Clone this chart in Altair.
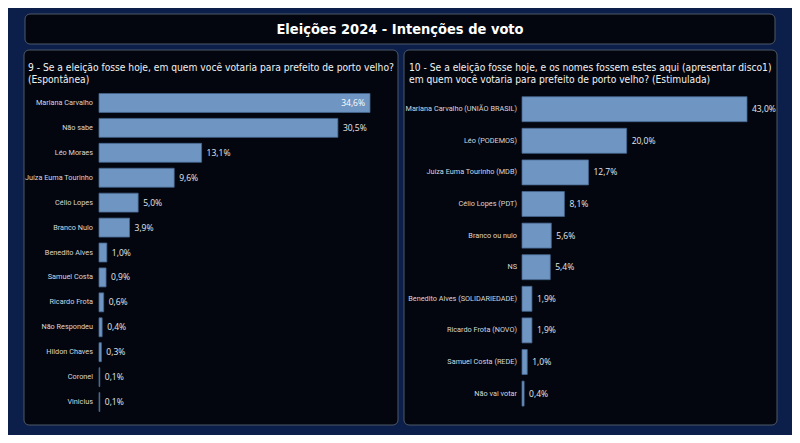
import altair as alt
import pandas as pd

title_text = "Eleições 2024 - Intenções de voto"
left_header = "9 - Se a eleição fosse hoje, em quem você votaria para prefeito de porto velho?\n(Espontânea)"
right_header = "10 - Se a eleição fosse hoje, e os nomes fossem estes aqui (apresentar disco1)\nem quem você votaria para prefeito de porto velho? (Estimulada)"

left_names = ["Mariana Carvalho", "Não sabe", "Léo Moraes", "Juíza Euma Tourinho", "Célio Lopes",
              "Branco Nulo", "Benedito Alves", "Samuel Costa", "Ricardo Frota", "Não Respondeu",
              "Hildon Chaves", "Coronel", "Vinicius"]
left_values = [34.6, 30.5, 13.1, 9.6, 5.0, 3.9, 1.0, 0.9, 0.6, 0.4, 0.3, 0.1, 0.1]

right_names = ["Mariana Carvalho (UNIÃO BRASIL)", "Léo (PODEMOS)", "Juíza Euma Tourinho (MDB)",
               "Célio Lopes (PDT)", "Branco ou nulo", "NS", "Benedito Alves (SOLIDARIEDADE)",
               "Ricardo Frota (NOVO)", "Samuel Costa (REDE)", "Não vai votar"]
right_values = [43.0, 20.0, 12.7, 8.1, 5.6, 5.4, 1.9, 1.9, 1.0, 0.4]

HEAD_FONT = "DejaVu Sans Condensed, Liberation Sans Narrow, Roboto"
LABEL_FONT = "Open Sans, Noto Sans, sans-serif"
CAT_FONT = "Roboto, Lato, sans-serif"
BAR = "#6f96c3"
BAR_STROKE = "#46668e"
PANEL_FILL = "#03060e"
PANEL_STROKE = "#4d5868"


def box(x, y, x2, y2):
    return alt.Chart(pd.DataFrame({"k": [0]})).mark_rect(
        fill=PANEL_FILL, stroke=PANEL_STROKE, strokeWidth=1, cornerRadius=5
    ).encode(x=alt.value(x), y=alt.value(y), x2=alt.value(x2), y2=alt.value(y2))


def text_at(txt, x, y, size, align="left", weight="normal", color="#f2f2f2"):
    return alt.Chart(pd.DataFrame({"t": [txt]})).mark_text(
        align=align, baseline="middle", lineBreak="\n", lineHeight=12, color=color,
        font=HEAD_FONT, fontSize=size, fontWeight=weight
    ).encode(x=alt.value(x), y=alt.value(y), text="t:N")


def panel(names, values, xr, yr, pad_inner, label_x, inside_first):
    df = pd.DataFrame({"nome": names, "valor": values})
    df["rotulo"] = [f"{v:.1f}".replace(".", ",") + "%" for v in values]
    df["dentro"] = [bool(inside_first and i == 0) for i in range(len(values))]

    y = alt.Y("nome:N", sort=names, axis=None,
              scale=alt.Scale(domain=names, range=yr, paddingInner=pad_inner,
                              paddingOuter=pad_inner / 2))
    x = alt.X("valor:Q", axis=None,
              scale=alt.Scale(domain=[0, max(values)], range=xr, nice=False, zero=True))

    base = alt.Chart(df).encode(y=y)
    bars = base.mark_bar(color=BAR, stroke=BAR_STROKE, strokeWidth=0.8).encode(x=x)
    out_lbl = base.transform_filter("!datum.dentro").mark_text(
        align="left", baseline="middle", dx=5, color="#e6e9ee", font=LABEL_FONT, fontSize=8.5
    ).encode(x=x, text="rotulo:N")
    in_lbl = base.transform_filter("datum.dentro").mark_text(
        align="right", baseline="middle", dx=-5, color="#ffffff", font=LABEL_FONT, fontSize=8.5
    ).encode(x=x, text="rotulo:N")
    cat_lbl = base.mark_text(
        align="right", baseline="middle", color="#d4d8de", font=CAT_FONT, fontSize=7.3
    ).encode(x=alt.value(label_x), text="nome:N")
    return [bars, out_lbl, in_lbl, cat_lbl]


layers = [
    box(17, 6, 767, 36),
    box(16, 42, 390, 417),
    box(396, 42, 769, 417),
    text_at(title_text, 392, 22, 14.5, align="center", weight="bold", color="#ffffff"),
    text_at(left_header, 20, 60, 10.2),
    text_at(right_header, 401, 60, 10.2),
]
layers += panel(left_names, left_values, [91, 362], [82.5, 406.5], 0.24, 85, True)
layers += panel(right_names, right_values, [514, 739], [85.4, 401.4], 0.21, 509, False)

chart = alt.layer(*layers).resolve_scale(
    x="independent", y="independent"
).properties(
    width=784, height=427,
    background="#0c1f4b",
    padding=0,
    autosize=alt.AutoSizeParams(type="none"),
).configure_view(stroke=None, fill=None)

chart.save("out.html", embed_options={"renderer": "svg", "actions": False})
